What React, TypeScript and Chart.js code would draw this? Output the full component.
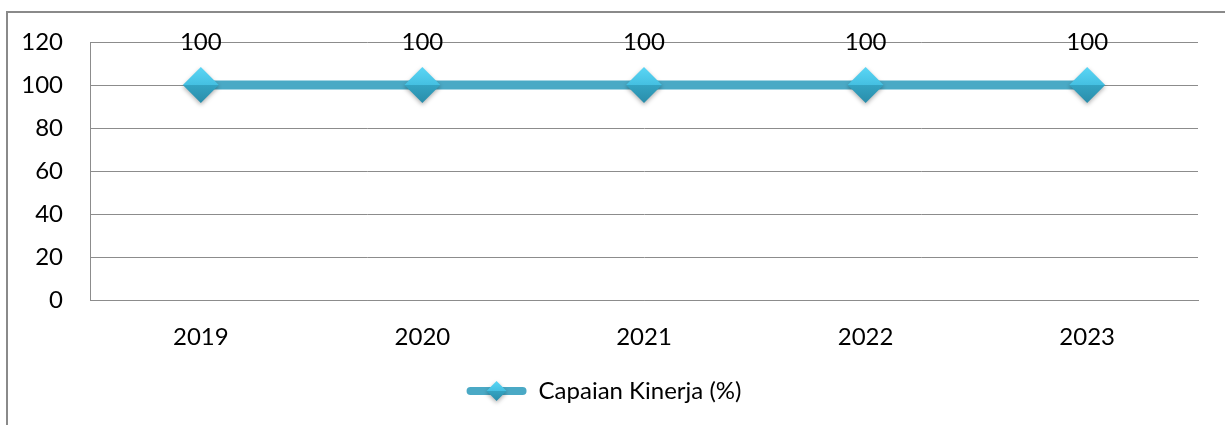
import React, { useEffect, useRef } from "react";
import { Chart, registerables } from "chart.js";

Chart.register(...registerables);

const categories = ["2019", "2020", "2021", "2022", "2023"];
const seriesName = "Capaian Kinerja (%)";
const seriesValues = [100, 100, 100, 100, 100];
const yTicks = [0, 20, 40, 60, 80, 100, 120];

const TEAL = "#4AA9C5";
const FONT = "Lato, 'Open Sans', sans-serif";

function diamondGradient(ctx: CanvasRenderingContext2D, cx: number, cy: number, r: number) {
  const g = ctx.createLinearGradient(cx, cy - r, cx, cy + r);
  g.addColorStop(0, "#5AD6F5");
  g.addColorStop(0.49, "#45C0E2");
  g.addColorStop(0.51, "#33A3C2");
  g.addColorStop(1, "#2A8DAA");
  return g;
}

function drawDiamond(ctx: CanvasRenderingContext2D, cx: number, cy: number, r: number) {
  ctx.save();
  ctx.shadowColor = "rgba(0,0,0,0.3)";
  ctx.shadowBlur = 4;
  ctx.shadowOffsetY = 2;
  ctx.beginPath();
  ctx.moveTo(cx - r, cy);
  ctx.lineTo(cx, cy - r);
  ctx.lineTo(cx + r, cy);
  ctx.lineTo(cx, cy + r);
  ctx.closePath();
  ctx.fillStyle = diamondGradient(ctx, cx, cy, r);
  ctx.fill();
  ctx.restore();
}

const framePlugin = {
  id: "frame",
  beforeDraw(chart: any) {
    const ctx = chart.ctx;
    ctx.save();
    ctx.strokeStyle = "#8A8A8A";
    ctx.lineWidth = 2;
    ctx.beginPath();
    ctx.moveTo(7, 440);
    ctx.lineTo(7, 12);
    ctx.lineTo(1240, 12);
    ctx.stroke();
    ctx.restore();
  },
};

const markerPlugin = {
  id: "markers",
  afterDatasetsDraw(chart: any) {
    const ctx = chart.ctx;
    const meta = chart.getDatasetMeta(0);
    meta.data.forEach((pt: any, i: number) => {
      drawDiamond(ctx, pt.x, pt.y, 18);
      ctx.save();
      ctx.fillStyle = "#000";
      ctx.font = `24px ${FONT}`;
      ctx.textAlign = "center";
      ctx.textBaseline = "middle";
      ctx.fillText(String(seriesValues[i]), pt.x, pt.y - 43);
      ctx.restore();
    });
  },
  afterDraw(chart: any) {
    const legend = chart.legend;
    if (!legend || !legend.legendHitBoxes || !legend.legendHitBoxes.length) return;
    const hb = legend.legendHitBoxes[0];
    const cx = hb.left + 30;
    const cy = hb.top + hb.height / 2;
    drawDiamond(chart.ctx, cx, cy, 10);
  },
};

export default function App() {
  const ref = useRef<HTMLCanvasElement | null>(null);
  useEffect(() => {
    if (!ref.current) return;
    const chart = new Chart(ref.current, {
      type: "line",
      data: {
        labels: categories,
        datasets: [
          {
            label: seriesName,
            data: seriesValues,
            borderColor: TEAL,
            backgroundColor: TEAL,
            borderWidth: 9,
            pointRadius: 0,
            pointHoverRadius: 0,
            fill: false,
            tension: 0,
          },
        ],
      },
      options: {
        animation: false,
        responsive: false,
        maintainAspectRatio: false,
        layout: { padding: { top: 42, right: 27, left: 10, bottom: 12 } },
        plugins: {
          tooltip: { enabled: false },
          legend: {
            position: "bottom",
            labels: {
              boxWidth: 60,
              boxHeight: 8,
              useBorderRadius: true,
              borderRadius: 4,
              color: "#000",
              font: { family: FONT, size: 24 },
              padding: 10,
              generateLabels: () => [
                {
                  text: seriesName,
                  fillStyle: TEAL,
                  strokeStyle: TEAL,
                  lineWidth: 0,
                  hidden: false,
                  datasetIndex: 0,
                  borderRadius: 4,
                } as any,
              ],
            },
          },
        },
        scales: {
          x: {
            offset: true,
            afterFit(scale: any) {
              scale.height = scale.height - 6;
            },
            grid: { display: false, drawTicks: false },
            border: { display: true, color: "#8C8C8C", width: 1 },
            ticks: { color: "#000", font: { family: FONT, size: 24 }, padding: 23 },
          },
          y: {
            min: 0,
            max: 120,
            afterFit(scale: any) {
              scale.width = 80;
            },
            afterBuildTicks(scale: any) {
              scale.ticks = yTicks.map((v) => ({ value: v }));
            },
            grid: { color: "#8C8C8C", lineWidth: 1, drawTicks: false },
            border: { display: true, color: "#8C8C8C", width: 1 },
            ticks: { color: "#000", font: { family: FONT, size: 24 }, padding: 27 },
          },
        },
      },
      plugins: [framePlugin, markerPlugin],
    });
    return () => chart.destroy();
  }, []);
  return (
    <div style={{ position: "absolute", left: 0, top: 0, width: 1225, height: 425, background: "#fff" }}>
      <canvas ref={ref} width={1225} height={425} style={{ display: "block" }} />
    </div>
  );
}
